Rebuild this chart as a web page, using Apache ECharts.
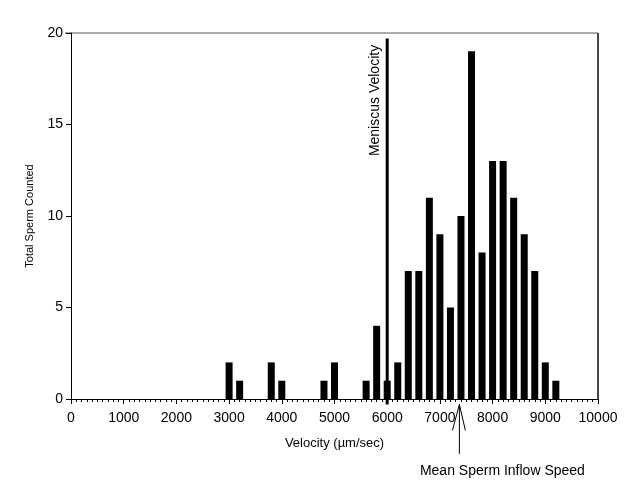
<!DOCTYPE html>
<html>
<head>
<meta charset="utf-8">
<script src="https://cdn.jsdelivr.net/npm/echarts@6/dist/echarts.min.js"></script>
<style>
  html, body {margin: 0; padding: 0; background: #fff;}
  #chart {width: 632px; height: 480px;}
</style>
</head>
<body>
<div id="chart"></div>
<script>
// velocity bins (um/sec) and counts
const velocities = [3000, 3200, 3800, 4000, 4800, 5000, 5600, 5800, 6000, 6200, 6400, 6600, 6800, 7000, 7200, 7400, 7600, 7800, 8000, 8200, 8400, 8600, 8800, 9000, 9200];
const counts = [2, 1, 2, 1, 1, 2, 1, 4, 1, 2, 7, 7, 11, 9, 5, 10, 19, 8, 13, 13, 11, 9, 7, 2, 1];
const meniscusVelocity = 6000;
const meanInflowSpeed = 7370;

const font = 'Liberation Sans, Arial, sans-serif';
const chart = echarts.init(document.getElementById('chart'));

chart.setOption({
  animation: false,
  grid: {left: 71, right: 34, top: 33, bottom: 81},
  xAxis: {
    type: 'value',
    min: 0,
    max: 10000,
    interval: 1000,
    name: 'Velocity (\u00b5m/sec)',
    nameLocation: 'middle',
    nameGap: 38,
    nameTextStyle: {color: '#000', fontSize: 13, fontFamily: font},
    axisLine: {onZero: false, lineStyle: {color: '#000', width: 1}},
    axisTick: {length: 5, lineStyle: {color: '#000'}},
    minorTick: {show: true, splitNumber: 10, length: 3, lineStyle: {color: '#000'}},
    axisLabel: {color: '#000', fontSize: 14, fontFamily: font, margin: 12, formatter: v => String(v)},
    splitLine: {show: false}
  },
  yAxis: {
    type: 'value',
    min: 0,
    max: 20,
    interval: 5,
    name: 'Total Sperm Counted',
    nameLocation: 'middle',
    nameGap: 36,
    nameTextStyle: {color: '#000', fontSize: 11, fontFamily: font},
    axisLine: {show: true, lineStyle: {color: '#000', width: 1}},
    axisTick: {show: true, inside: false, length: 5, lineStyle: {color: '#000'}},
    axisLabel: {color: '#000', fontSize: 14, fontFamily: font, margin: 8},
    splitLine: {show: false}
  },
  series: [{
    type: 'bar',
    barWidth: 7,
    itemStyle: {color: '#000'},
    data: velocities.map((v, i) => [v, counts[i]])
  }]
});

// frame lines, meniscus line and the mean-speed arrow, placed from data values
const p = (x, y) => chart.convertToPixel({gridIndex: 0}, [x, y]);
const topLeft = p(0, 20), topRight = p(10000, 20), botRight = p(10000, 0);
const mTop = p(meniscusVelocity, 19.7), mBot = p(meniscusVelocity, -0.3);
const aTip = p(meanInflowSpeed, -0.3), aTail = p(meanInflowSpeed, -3.0);
const headY = aTip[1] + 26;

chart.setOption({
  graphic: [
    {type: 'line', shape: {x1: topLeft[0] - 6, y1: topLeft[1], x2: topRight[0], y2: topRight[1]},
      style: {stroke: '#aaa', lineWidth: 2}},
    {type: 'line', shape: {x1: topRight[0], y1: topRight[1], x2: botRight[0], y2: botRight[1]},
      style: {stroke: '#444', lineWidth: 2}},
    {type: 'line', shape: {x1: mTop[0], y1: mTop[1], x2: mBot[0], y2: mBot[1]},
      style: {stroke: '#000', lineWidth: 3}},
    {type: 'text', x: mTop[0] - 12, y: mTop[1] + 62, rotation: Math.PI / 2,
      style: {text: 'Meniscus Velocity', fill: '#000', font: '14px ' + font, align: 'center', verticalAlign: 'middle'}},
    {type: 'line', shape: {x1: aTip[0], y1: aTip[1], x2: aTail[0], y2: aTail[1]},
      style: {stroke: '#000', lineWidth: 1}},
    {type: 'polyline', shape: {points: [[aTip[0] - 7, headY], aTip, [aTip[0] + 6, headY]]},
      style: {stroke: '#000', lineWidth: 1, fill: null}},
    {type: 'text', x: aTip[0] + 43, y: aTail[1] + 17,
      style: {text: 'Mean Sperm Inflow Speed', fill: '#000', font: '14px ' + font, align: 'center', verticalAlign: 'middle'}}
  ]
});
</script>
</body>
</html>
